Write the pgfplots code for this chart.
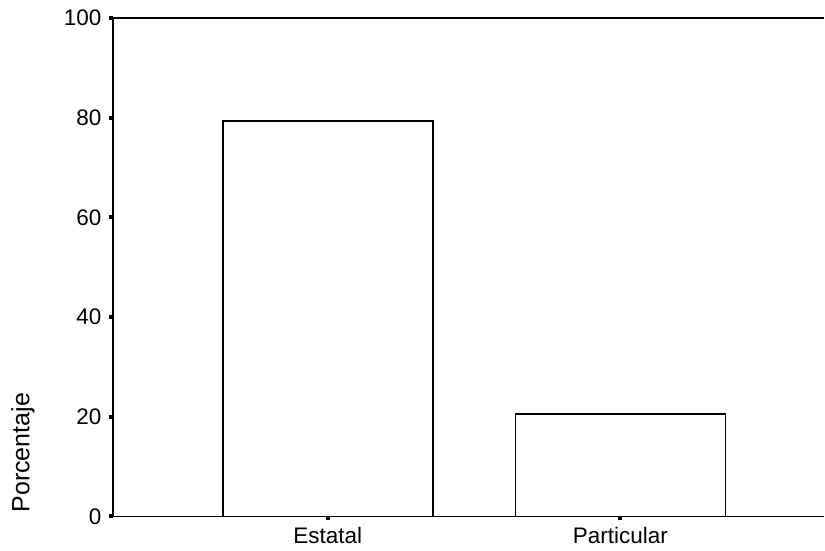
\documentclass[border=0pt]{standalone}
\usepackage{fontspec}
\setmainfont{Liberation Sans}
\usepackage{pgfplots}
\pgfplotsset{compat=1.18}
\begin{document}
\begin{tikzpicture}
\begin{axis}[
  scale only axis,
  width=712pt, height=499pt,
  xmin=-0.734, xmax=1.696,
  ymin=0, ymax=100,
  axis x line=bottom, axis y line=left,
  axis line style={-, line width=1.7pt},
  xtick={0,1}, xticklabels={Estatal,Particular},
  ytick={0,20,40,60,80,100},
  tick align=outside,
  major tick length=4pt,
  tick style={black, line width=4pt},
  tick label style={font=\fontsize{22.5}{27}\selectfont},
  /pgf/number format/assume math mode=true,
  yticklabel style={xshift=-4pt},
  xticklabel style={yshift=-3pt},
  ylabel={Porcentaje},
  every axis y label/.style={at={(rel axis cs:0,0.128)}, anchor=center, xshift=-90pt, rotate=90, font=\fontsize{25}{30}\selectfont},
  clip=false,
]
\addplot[ybar, bar width=0.717, fill=white, draw=black, line width=1.7pt] coordinates {(0,79.4) (1,20.6)};
\draw[line width=1.7pt] (rel axis cs:0,1) -- (rel axis cs:1,1);
\path (rel axis cs:0,0) ++(-113pt,-34pt) coordinate (ll);
\path (rel axis cs:1,1) ++(0pt,18pt) coordinate (ur);
\path[use as bounding box] (ll) rectangle (ur);
\end{axis}
\end{tikzpicture}
\end{document}
